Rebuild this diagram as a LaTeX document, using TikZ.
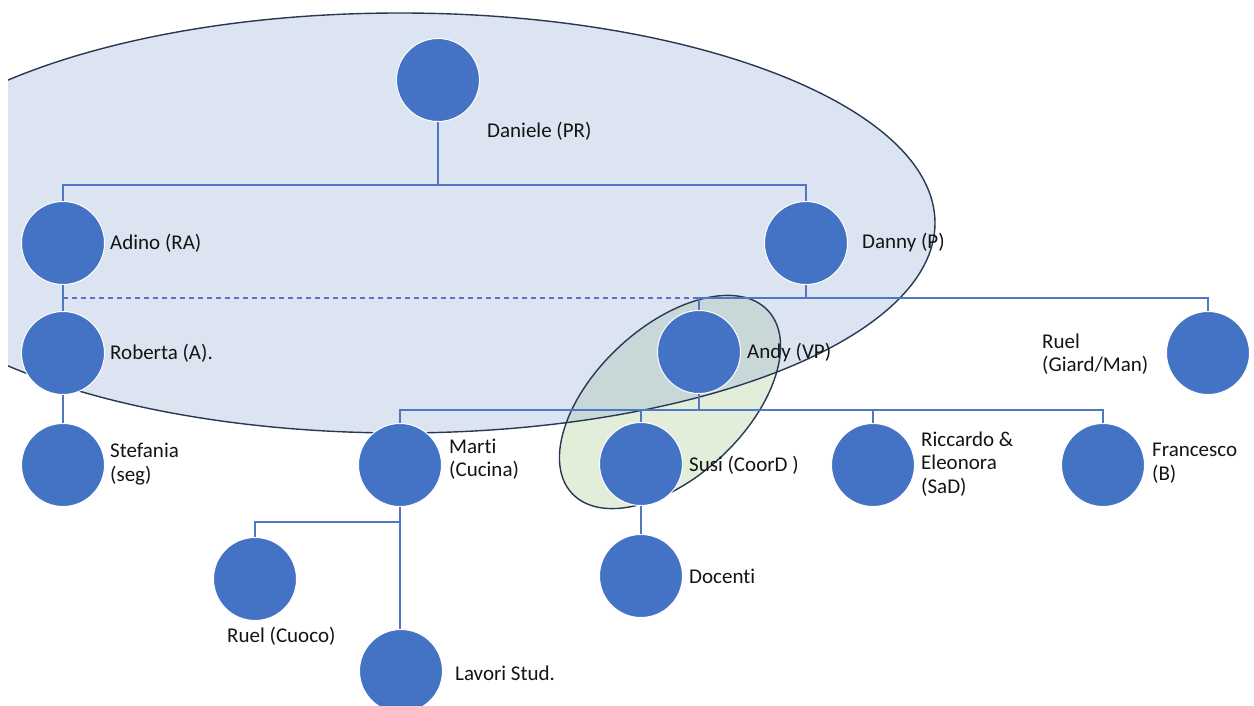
\documentclass[tikz,border=0pt]{standalone}
\usepackage{fontspec}
\setmainfont{Carlito}[Ligatures=NoCommon]
\usetikzlibrary{calc}
\definecolor{nodeblue}{RGB}{68,114,196}
\definecolor{linkblue}{RGB}{80,118,196}
\definecolor{bigfill}{RGB}{219,228,240}
\definecolor{smallfill}{RGB}{227,238,218}
\definecolor{overlapfill}{RGB}{200,216,216}
\definecolor{rimcol}{RGB}{40,56,84}
\definecolor{txt}{RGB}{20,20,20}
\begin{document}
\begin{tikzpicture}[x=1pt,y=-1pt,
  person/.style={circle,fill=nodeblue,draw=white,line width=1pt,minimum size=83pt,inner sep=0pt},
  lbl/.style={anchor=west,align=left,text=txt,inner sep=0pt,font=\fontsize{21}{23.5}\selectfont},
  conn/.style={draw=linkblue,line width=1.3pt},
  dashconn/.style={conn,dash pattern=on 5pt off 4pt},
  rim/.style={draw=rimcol,line width=1.4pt}]
\useasboundingbox (0,0) rectangle (1254,706);
\fill[white] (0,0) rectangle (1254,706);
% big ellipse
\begin{scope}
  \clip (8,0) rectangle (1254,706);
  \fill[bigfill] (400,223) ellipse [x radius=535pt, y radius=210pt];
\end{scope}
% small ellipse
\begin{scope}[shift={(670,402)},rotate=43]
  \fill[smallfill] (0,0) ellipse [x radius=134pt, y radius=75pt];
\end{scope}
\begin{scope}
  \clip (8,0) rectangle (1254,706);
  \clip (400,223) ellipse [x radius=535pt, y radius=210pt];
  \begin{scope}[shift={(670,402)},rotate=43]
    \fill[overlapfill] (0,0) ellipse [x radius=134pt, y radius=75pt];
  \end{scope}
\end{scope}
\begin{scope}
  \clip (8,0) rectangle (1254,706);
  \draw[rim] (400,223) ellipse [x radius=535pt, y radius=210pt];
\end{scope}
\begin{scope}[shift={(670,402)},rotate=43]
  \draw[rim] (0,0) ellipse [x radius=134pt, y radius=75pt];
\end{scope}
% bus coordinates
\coordinate (busA) at (438,185);
\coordinate (dashL) at (63,298);
\coordinate (busB) at (806,298);
\coordinate (dashR) at (699,298);
\coordinate (busC) at (699,410);
\coordinate (busD) at (400,522);
% persons
\node[person] (daniele) at (438,80) {};
\node[person] (adino) at (63,243) {};
\node[person] (danny) at (806,243) {};
\node[person] (roberta) at (63,353) {};
\node[person] (andy) at (699,352) {};
\node[person] (ruelg) at (1208,353) {};
\node[person] (stefania) at (63,465) {};
\node[person] (marti) at (400,465) {};
\node[person] (susi) at (641,464) {};
\node[person] (riccardo) at (873,465) {};
\node[person] (francesco) at (1103,465) {};
\node[person] (ruelc) at (255,579) {};
\node[person] (docenti) at (641,576) {};
\node[person] (lavori) at (401,671) {};
% connectors
\draw[conn] (daniele.south) -- (busA);
\draw[conn] (adino.north) |- (busA) -| (danny.north);
\draw[conn] (adino.south) -- (roberta.north);
\draw[dashconn] (dashL) -- (dashR);
\draw[conn] (danny.south) -- (busB);
\draw[conn] (andy.north) |- (busB) -| (ruelg.north);
\draw[conn] (roberta.south) -- (stefania.north);
\draw[conn] (andy.south) -- (busC);
\draw[conn] (marti.north) |- (busC) -| (francesco.north);
\draw[conn] (susi.north) -- (susi.north |- busC);
\draw[conn] (riccardo.north) -- (riccardo.north |- busC);
\draw[conn] (marti.south) -- (marti.south |- lavori.north);
\draw[conn] (ruelc.north) |- (busD);
\draw[conn] (susi.south) -- (docenti.north);
% labels
\node[lbl] (tdaniele) at (487,131) {Daniele (PR)};
\node[lbl] (tadino) at (110,243) {Adino (RA)};
\node[lbl] (tdanny) at (862,243) {Danny (P)};
\node[lbl] (troberta) at (110,353) {Roberta (A).};
\node[lbl] (tandy) at (747,353) {Andy (VP)};
\node[lbl] (truelg) at (1042,354) {Ruel\\(Giard/Man)};
\node[lbl] (tstefania) at (110,464) {Stefania\\(seg)};
\node[lbl] (tmarti) at (449,459) {Marti\\(Cucina)};
\node[lbl] (tsusi) at (689,465) {Susi (CoorD )};
\node[lbl] (triccardo) at (921,464) {Riccardo \&\\Eleonora\\(SaD)};
\node[lbl] (tfrancesco) at (1152,463) {Francesco\\(B)};
\node[lbl] (truelc) at (227,636) {Ruel (Cuoco)};
\node[lbl] (tdocenti) at (689,576) {Docenti};
\node[lbl] (tlavori) at (455,673) {Lavori Stud.};
\end{tikzpicture}
\end{document}
